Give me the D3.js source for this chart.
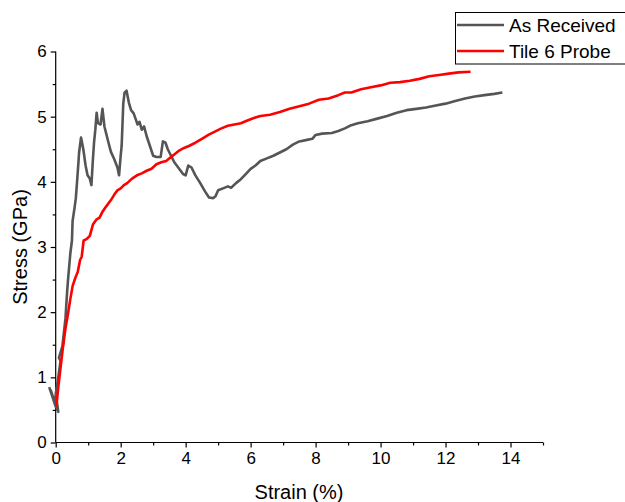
<!DOCTYPE html>
<html><head><meta charset="utf-8">
<script src="https://cdn.jsdelivr.net/npm/d3@7"></script>
<style>
html,body{margin:0;padding:0;background:#fff;}
svg{display:block;font-family:"Liberation Sans",Arial,sans-serif;}
</style></head>
<body>
<svg id="chart" width="625" height="502"></svg>
<script>
const seriesNames = ["As Received", "Tile 6 Probe"];
const seriesColors = ["#555555", "#ff0000"];
const xTicks = [0, 2, 4, 6, 8, 10, 12, 14];
const yTicks = [0, 1, 2, 3, 4, 5, 6];

const asReceivedStrain = [-0.2,0.0,-0.15,0.05,-0.05,0.08,0.0,0.05,0.15,0.1,0.25,0.2,0.3,0.35,0.38,0.45,0.5,0.52,0.58,0.62,0.65,0.7,0.72,0.78,0.85,0.92,0.98,1.05,1.1,1.14,1.18,1.22,1.26,1.3,1.38,1.44,1.5,1.6,1.7,1.8,1.9,1.95,2.0,2.03,2.08,2.12,2.18,2.25,2.32,2.4,2.47,2.52,2.58,2.65,2.72,2.8,2.9,3.0,3.1,3.23,3.3,3.38,3.45,3.55,3.65,3.8,3.92,4.0,4.08,4.18,4.3,4.45,4.6,4.72,4.85,4.92,5.0,5.15,5.3,5.4,5.55,5.7,5.85,6.0,6.15,6.3,6.5,6.7,6.9,7.1,7.3,7.5,7.7,7.9,8.0,8.2,8.5,8.7,8.9,9.1,9.3,9.6,9.9,10.2,10.5,10.8,11.1,11.4,11.7,12.0,12.3,12.6,12.9,13.2,13.5,13.75];
const asReceivedStress = [0.85,0.55,0.8,0.5,0.7,0.47,0.75,0.9,1.25,1.3,1.55,1.45,1.9,2.3,2.5,2.9,3.1,3.4,3.6,3.75,3.95,4.3,4.45,4.68,4.5,4.25,4.1,4.05,3.95,4.3,4.6,4.8,5.06,4.9,4.88,5.12,4.85,4.65,4.46,4.35,4.22,4.1,4.4,4.55,5.2,5.37,5.4,5.22,5.1,5.05,4.95,4.88,4.92,4.8,4.85,4.7,4.55,4.4,4.38,4.38,4.62,4.6,4.5,4.4,4.3,4.2,4.12,4.1,4.25,4.22,4.1,3.98,3.85,3.76,3.75,3.78,3.87,3.9,3.93,3.91,3.98,4.04,4.12,4.2,4.25,4.32,4.36,4.4,4.45,4.5,4.57,4.62,4.64,4.66,4.72,4.74,4.75,4.78,4.82,4.87,4.9,4.93,4.97,5.01,5.06,5.1,5.12,5.14,5.17,5.2,5.24,5.28,5.31,5.33,5.35,5.37];

const tileStrain = [0.02,0.08,0.15,0.22,0.3,0.37,0.45,0.52,0.6,0.68,0.75,0.8,0.86,0.95,1.05,1.15,1.25,1.35,1.45,1.55,1.7,1.8,1.9,2.0,2.1,2.2,2.35,2.5,2.65,2.8,2.95,3.1,3.25,3.4,3.55,3.65,3.8,3.95,4.1,4.3,4.5,4.7,4.9,5.1,5.3,5.5,5.7,5.9,6.1,6.3,6.6,6.9,7.2,7.5,7.8,8.1,8.4,8.7,8.9,9.1,9.4,9.7,10.0,10.3,10.6,10.9,11.2,11.5,11.8,12.1,12.4,12.77];
const tileStress = [0.55,0.85,1.15,1.45,1.75,1.95,2.2,2.4,2.52,2.62,2.8,2.85,3.1,3.12,3.17,3.35,3.42,3.45,3.55,3.62,3.72,3.8,3.87,3.9,3.95,3.98,4.05,4.1,4.13,4.17,4.2,4.27,4.3,4.32,4.38,4.42,4.48,4.52,4.55,4.6,4.66,4.72,4.77,4.82,4.86,4.88,4.9,4.94,4.98,5.01,5.03,5.07,5.12,5.16,5.2,5.26,5.28,5.33,5.37,5.37,5.42,5.45,5.48,5.52,5.53,5.55,5.58,5.62,5.64,5.66,5.68,5.69];

const svg = d3.select("#chart");
const x = d3.scaleLinear().domain([0, 15]).range([55.7, 543]);
const y = d3.scaleLinear().domain([0, 6]).range([442.5, 51.5]);

// axes
const xAxis = d3.axisBottom(x).tickValues(xTicks).tickSize(5).tickPadding(4).tickFormat(d3.format("d"));
const xMinor = d3.axisBottom(x).tickValues(d3.range(1, 16, 2)).tickSize(3).tickFormat("");
const yAxis = d3.axisLeft(y).tickValues(yTicks).tickSize(5).tickPadding(4).tickFormat(d3.format("d"));
const yMinor = d3.axisLeft(y).tickValues(d3.range(0.5, 6, 1)).tickSize(3).tickFormat("");

function styleAxis(g){
  g.select(".domain").attr("stroke","#000").attr("stroke-width",1.2);
  g.selectAll(".tick line").attr("stroke","#000").attr("stroke-width",1.2);
  g.selectAll(".tick text").attr("fill","#000").style("font-size","17px").style("font-family","'Liberation Sans',Arial,sans-serif");
}
svg.append("g").attr("transform","translate(0,442.5)").call(xMinor).call(styleAxis).select(".domain").remove();
svg.append("g").attr("transform","translate(55.7,0)").call(yMinor).call(styleAxis).select(".domain").remove();
svg.append("g").attr("transform","translate(0,442.5)").call(xAxis).call(g=>{g.select(".domain").attr("d","M55.7,0H543");}).call(styleAxis);
svg.append("g").attr("transform","translate(55.7,0)").call(yAxis).call(g=>{g.select(".domain").attr("d","M0,442.5V51.5");}).call(styleAxis);

// titles
svg.append("text").attr("x",299).attr("y",499).attr("text-anchor","middle")
  .style("font-size","20px").attr("fill","#000").text("Strain (%)");
svg.append("text").attr("transform","translate(27,247) rotate(-90)").attr("text-anchor","middle")
  .style("font-size","20px").attr("fill","#000").text("Stress (GPa)");

// lines
const line = d3.line().x(d=>x(d[0])).y(d=>y(d[1]));
const series = [
  d3.zip(asReceivedStrain, asReceivedStress),
  d3.zip(tileStrain, tileStress)
];
series.forEach((s,i)=>{
  svg.append("path").datum(s).attr("d",line).attr("fill","none")
    .attr("stroke",seriesColors[i]).attr("stroke-width",2.6)
    .attr("stroke-linejoin","round").attr("stroke-linecap","butt");
});

// legend
const lg = svg.append("g");
lg.append("rect").attr("x",455.5).attr("y",12.5).attr("width",180).attr("height",51.5)
  .attr("fill","#fff").attr("stroke","#000").attr("stroke-width",1);
seriesNames.forEach((n,i)=>{
  const cy = 25 + i*26;
  lg.append("line").attr("x1",457).attr("x2",504).attr("y1",cy).attr("y2",cy)
    .attr("stroke",seriesColors[i]).attr("stroke-width",2.6);
  lg.append("text").attr("x",509).attr("y",cy+7).style("font-size","19px").attr("fill","#000").text(n);
});
</script>
</body></html>
